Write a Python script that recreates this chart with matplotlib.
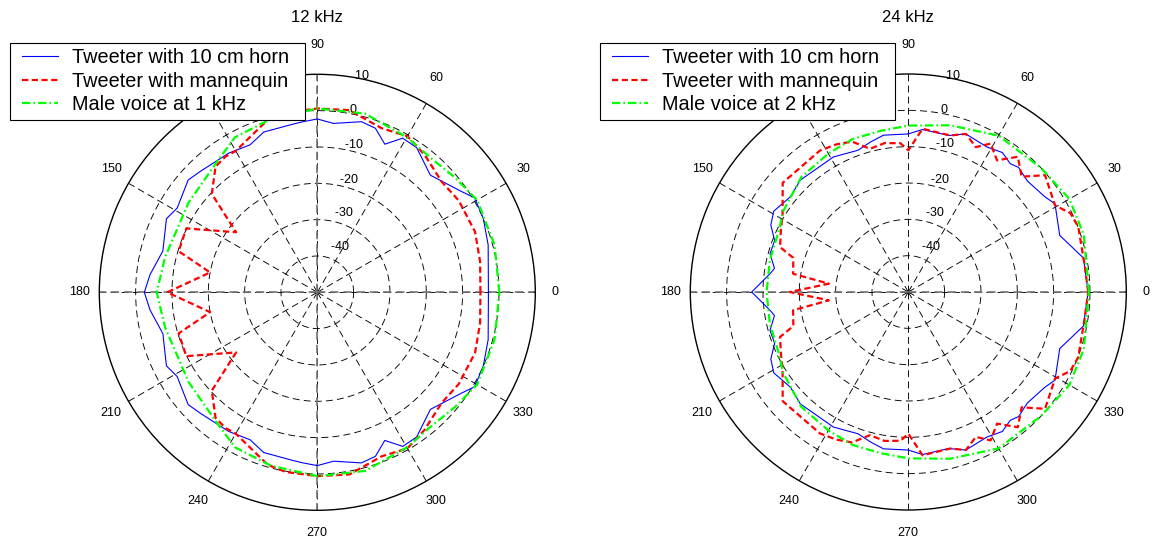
"""Directivity of tweeter vs. voice at 12 and 24 kHz, MATLAB-style polar plots."""
import numpy as np
import matplotlib
matplotlib.use("Agg")
import matplotlib.pyplot as plt
from matplotlib.patches import Rectangle

plt.rcParams["font.family"] = ["Liberation Sans", "DejaVu Sans"]
plt.rcParams["lines.scale_dashes"] = False

# --- data (angle in degrees, level in dB) ---
TITLES = ["12 kHz", "24 kHz"]
LEGEND_12 = ["Tweeter with 10 cm horn", "Tweeter with mannequin", "Male voice at 1 kHz"]
LEGEND_24 = ["Tweeter with 10 cm horn", "Tweeter with mannequin", "Male voice at 2 kHz"]

horn12_ang = [0, 15.5, 24, 31, 35, 46, 55.5, 61, 65.5, 70.5, 75.5, 84.5, 90, 95, 99, 108.5,
              114.5, 122.5, 134, 139, 149, 154, 165, 174, 180, 186, 195, 206, 211, 221, 226,
              237.5, 245.5, 251.5, 261, 265, 270, 275.5, 284.5, 289.5, 294.5, 299, 304.5,
              314, 325, 329, 336, 344.5, 360]
horn12_db = [-2.9, -1.2, 0.0, 0.5, -1.6, -5.2, -1.7, -1.5, -5.2, -2.1, -1.5, -3.3, -2.3, -2.9,
             -3.3, -3.5, -5.4, -4.6, -3.7, -2.9, -5.0, -3.8, -6.0, -3.7, -2.4, -3.7, -6.0,
             -3.8, -5.0, -2.9, -3.7, -4.6, -5.4, -3.5, -3.3, -2.9, -2.3, -3.3, -1.5, -2.1,
             -5.2, -1.5, -1.7, -5.2, -1.6, 0.5, 0.0, -1.2, -2.9]

mann12_ang = [0, 10.7, 21, 33, 41.6, 52, 60, 68.6, 80, 90, 100, 106, 113, 120, 124, 129, 137,
              143.5, 154, 163.5, 169.5, 180, 190.5, 196.5, 206, 216.5, 223, 231, 236, 240,
              247, 254, 260, 270, 280, 291.4, 300, 308, 318.4, 327, 339, 349.3, 360]
mann12_db = [-5.1, -4.4, -3.5, -3.6, -4.2, -2.0, -0.4, -1.5, 0.9, 0.6, 0.2, -0.6, -3.3, -5.1,
             -4.9, -5.5, -10.3, -22.2, -9.9, -10.2, -20.0, -8.7, -20.0, -10.2, -9.9, -22.2,
             -10.3, -5.5, -4.9, -5.1, -3.3, -0.6, 0.2, 0.6, 0.9, -1.5, -0.4, -2.0, -4.2,
             -3.6, -3.5, -4.4, -5.1]

voice1k_ang = [0, 15, 30, 40, 50, 60, 75, 90, 105, 118, 128, 145, 156, 167, 180, 193, 204,
               215, 232, 242, 255, 270, 285, 300, 310, 320, 330, 345, 360]
voice1k_db = [0.1, 0.5, 0.8, -0.7, -1.6, -0.7, 0.9, 0.6, -0.6, -1.7, -4.8, -6.8, -7.7, -7.0,
              -5.8, -7.0, -7.7, -6.8, -4.8, -1.7, -0.6, 0.6, 0.9, -0.7, -1.6, -0.7, 0.8,
              0.5, 0.1]

horn24_ang = [0, 11, 20.5, 31, 35, 43, 48.5, 51.5, 56, 61.5, 70, 75.5, 85, 90, 99, 104, 109.5,
              119, 134, 141, 149, 154, 159, 164.5, 170, 172.5, 180, 187.5, 190, 195.5, 201,
              206, 211, 219, 226, 241, 250.5, 256, 261, 270, 275, 284.5, 290, 298.5, 304,
              308.5, 311.5, 317, 325, 329, 339.5, 349, 360]
horn24_db = [-0.5, -0.9, -5.5, -2.9, -4.2, -5.2, -4.2, -4.9, -3.7, -4.6, -3.7, -5.5, -5.1,
             -6.5, -6.3, -7.4, -8.6, -7.5, -7.2, -8.3, -6.8, -7.9, -10.6, -10.5, -12.6, -11.6,
             -6.9, -11.6, -12.6, -10.5, -10.6, -7.9, -6.8, -8.3, -7.2, -7.5, -8.6, -7.4, -6.3,
             -6.5, -5.1, -5.5, -3.7, -4.6, -3.7, -4.9, -4.2, -5.2, -4.2, -2.9, -5.5, -0.9,
             -0.5]

mann24_ang = [0, 8, 21, 26, 30.5, 40.5, 45.5, 51, 56, 61, 65, 70, 75, 85, 90, 93, 99, 105,
              110.5, 116, 122, 139, 148, 154, 160.7, 163.5, 171, 174, 180, 186, 189, 196.5,
              199.3, 206, 212, 221, 238, 244, 249.5, 255, 261, 267, 270, 275, 285, 290, 295,
              299, 304, 309, 314.5, 319.5, 329.5, 334, 339, 352, 360]
mann24_db = [-0.5, -0.9, 0.1, -0.4, -3.1, -0.5, -5.5, -2.1, -6.3, -3.3, -6.0, -3.7, -5.4,
             -4.9, -11.0, -9.0, -8.5, -9.2, -5.8, -4.8, -4.1, -4.2, -9.2, -11.0, -12.6, -17.0,
             -17.9, -28.0, -17.4, -28.0, -17.9, -17.0, -12.6, -11.0, -9.2, -4.2, -4.1, -4.8,
             -5.8, -9.2, -8.5, -9.0, -11.0, -4.9, -5.4, -3.7, -6.0, -3.3, -6.3, -2.1, -5.5,
             -0.5, -3.1, -0.4, 0.1, -0.9, -0.5]

voice2k_ang = [0, 18, 30, 43, 60, 76, 90, 100, 110, 120, 133, 147, 155, 167, 180, 193, 205,
               213, 227, 240, 250, 260, 270, 284, 300, 317, 330, 342, 360]
voice2k_db = [-0.3, 0.8, 1.2, 0.0, -0.3, -2.7, -4.2, -5.0, -5.2, -6.0, -6.8, -9.0, -10.6,
              -10.9, -11.0, -10.9, -10.6, -9.0, -6.8, -6.0, -5.2, -5.0, -4.2, -2.7, -0.3,
              0.0, 1.2, 0.8, -0.3]

RMIN, RMAX = -50, 10
RINGS = [-40, -30, -20, -10, 0, 10]
RING_LABEL_SHIFT = {-40: 2.6, -30: 2.0, -20: 1.2, -10: 1.0, 0: 0.7, 10: 0.0}  # dB, label nudge
SPOKES = [0, 30, 60, 90, 120, 150]
ANGLE_TICKS = list(range(0, 360, 30))

W, H = 1152, 545
CENTERS = [(317.3, 292.3), (908.3, 292.0)]
RADIUS = 218
LABEL_RX, LABEL_RY_UP, LABEL_RY_DOWN = 238, 247, 241     # px, angle label ellipse
LEGEND_BOX = [(10, 43, 305, 120), (600, 43, 895, 120)]   # px: left, top, right, bottom

STYLE = [
    dict(color="#0000ff", lw=0.8, ls="-"),
    dict(color="#ff0000", lw=1.6, ls=(0, (4.5, 2.5))),
    dict(color="#00ff00", lw=1.6, ls=(0, (6, 2.2, 1.2, 2.2))),
]


def polar_frame(ax, gray_vertical):
    ax.set_ylim(RMIN, RMAX)
    ax.set_xticks([]); ax.set_yticks([])
    ax.grid(False)
    ax.spines["polar"].set_linewidth(1.0)
    th = np.linspace(0, 2 * np.pi, 361)
    for r in RINGS[:-1]:
        ax.plot(th, np.full_like(th, r), color="k", lw=0.65, ls=(0, (5, 3)), zorder=1)
    for a in SPOKES:
        for b in (a, a + 180):
            ax.plot(np.deg2rad([b, b]), [RMIN, RMAX], color="k", lw=0.65,
                    ls=(0, (5, 3)), zorder=1)
    # gray axis cross
    gray = [0, 180] + ([90, 270] if gray_vertical else [])
    for b in gray:
        ax.plot(np.deg2rad([b, b]), [RMIN, RMAX], color="0.45", lw=1.2,
                ls=(0, (6, 3.5)), zorder=1.5)
    size = 2 * RADIUS
    for a in ANGLE_TICKS:
        s, c = np.sin(np.deg2rad(a)), np.cos(np.deg2rad(a))
        ry = LABEL_RY_UP if s > 0 else LABEL_RY_DOWN
        ax.text(0.5 + LABEL_RX * c / size, 0.5 + ry * s / size, str(a), ha="center",
                va="center", fontsize=9, clip_on=False, transform=ax.transAxes)
    for r in RINGS:
        ax.text(np.deg2rad(82), r + RING_LABEL_SHIFT[r], "  " + str(r), ha="left",
                va="center", fontsize=9, clip_on=False, zorder=1.8)


fig = plt.figure(figsize=(W / 100, H / 100), dpi=100)
panels = [
    (TITLES[0], LEGEND_12, [(horn12_ang, horn12_db), (mann12_ang, mann12_db),
                            (voice1k_ang, voice1k_db)], True),
    (TITLES[1], LEGEND_24, [(horn24_ang, horn24_db), (mann24_ang, mann24_db),
                            (voice2k_ang, voice2k_db)], False),
]
for (title, labels, series, gv), (cx, cy), box in zip(panels, CENTERS, LEGEND_BOX):
    ax = fig.add_axes([(cx - RADIUS) / W, (H - cy - RADIUS) / H, 2 * RADIUS / W,
                       2 * RADIUS / H], projection="polar")
    polar_frame(ax, gv)
    handles = []
    for (ang, db), st, lab in zip(series, STYLE, labels):
        h, = ax.plot(np.deg2rad(ang), db, label=lab, zorder=2, **st)
        handles.append(h)
    fig.text(cx / W, 1 - 17 / H, title, ha="center", va="center", fontsize=12)

    # legend: MATLAB-like square box with extra room on the right
    l, t, r, b = box
    fig.add_artist(Rectangle((l / W, 1 - b / H), (r - l) / W, (b - t) / H,
                             transform=fig.transFigure, facecolor="white",
                             edgecolor="k", lw=0.8, zorder=4.5))
    leg = fig.legend(handles, labels, loc="upper left",
                     bbox_to_anchor=((l + 12) / W, 1 - (t + 5) / H),
                     bbox_transform=fig.transFigure, borderaxespad=0, borderpad=0,
                     fontsize=14.3, frameon=False, handlelength=1.8,
                     handletextpad=0.7, labelspacing=0.23)
    leg.set_zorder(5)

fig.savefig("out.png", dpi=100)
